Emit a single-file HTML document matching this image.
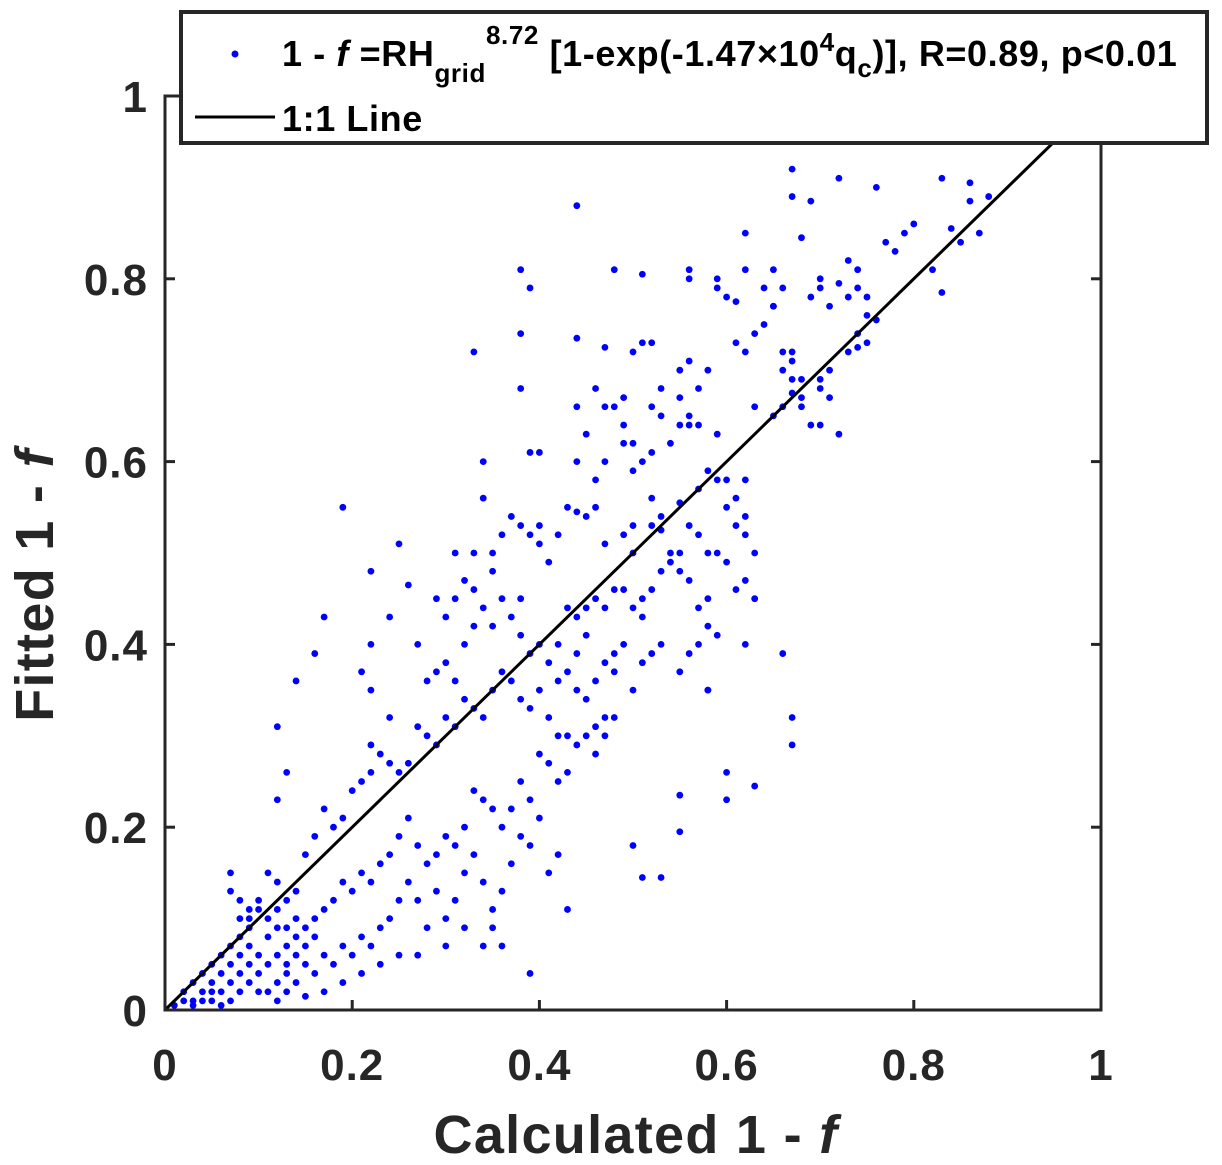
<!DOCTYPE html>
<html><head><meta charset="utf-8"><style>
html,body{margin:0;padding:0;background:#fff}
svg{display:block;font-family:"Liberation Sans",Arial,sans-serif;font-weight:bold}
</style></head><body>
<svg id="chart" width="1222" height="1165" viewBox="0 0 1222 1165">
<g id="marks"></g>
<line id="oneline" stroke="#000" stroke-width="3"/>
<rect x="165" y="96" width="936" height="914" fill="none" stroke="#262626" stroke-width="3"/>
<g id="ticks"></g>
<text x="636" y="1153" font-size="54" letter-spacing="1.3" text-anchor="middle" fill="#262626">Calculated 1 - <tspan font-style="italic">f</tspan></text>
<text transform="translate(53,585) rotate(-90)" font-size="54" letter-spacing="1.3" text-anchor="middle" fill="#262626">Fitted 1 - <tspan font-style="italic">f</tspan></text>
<g>
<rect x="181" y="12" width="1026" height="131" fill="#fff" stroke="#262626" stroke-width="4"/>
<circle cx="235" cy="54" r="3.5" fill="#0000ff"/>
<text x="282" y="66" font-size="36" letter-spacing="0.6" fill="#000">1 - <tspan font-style="italic">f</tspan> =RH<tspan font-size="26" dy="16">grid</tspan><tspan font-size="26" dy="-38">8.72</tspan><tspan dy="22"> [1-exp(-1.47×10</tspan><tspan font-size="26" dy="-15">4</tspan><tspan dy="15">q</tspan><tspan font-size="26" dy="11">c</tspan><tspan dy="-11">)], R=0.89, p&lt;0.01</tspan></text>
<line x1="195" y1="117" x2="275" y2="117" stroke="#000" stroke-width="3"/>
<text x="282" y="131" font-size="36" letter-spacing="0.6" fill="#000">1:1 Line</text>
</g>
</svg>
<script>
const xTicks=[0,0.2,0.4,0.6,0.8,1];
const yTicks=[0,0.2,0.4,0.6,0.8,1];
const xTickLabels=["0","0.2","0.4","0.6","0.8","1"];
const yTickLabels=["0","0.2","0.4","0.6","0.8","1"];
const calcVals=[0.67,0.72,0.76,0.83,0.86,0.88,0.67,0.69,0.86,0.87,0.85,0.84,0.80,0.79,0.77,0.78,0.73,0.74,0.82,0.83,0.62,0.68,0.44,0.38,0.39,0.48,0.51,0.56,0.56,0.59,0.62,0.65,0.70,0.70,0.72,0.74,0.75,0.76,0.69,0.66,0.64,0.60,0.59,0.61,0.65,0.71,0.73,0.75,0.74,0.74,0.75,0.73,0.71,0.70,0.70,0.71,0.72,0.70,0.69,0.66,0.67,0.67,0.66,0.67,0.68,0.68,0.67,0.68,0.66,0.65,0.63,0.63,0.62,0.61,0.64,0.65,0.33,0.38,0.38,0.44,0.47,0.51,0.52,0.50,0.55,0.55,0.56,0.58,0.57,0.56,0.57,0.59,0.56,0.55,0.53,0.54,0.52,0.49,0.50,0.47,0.44,0.46,0.47,0.45,0.44,0.46,0.40,0.39,0.34,0.34,0.53,0.52,0.49,0.48,0.49,0.50,0.51,0.52,0.53,0.53,0.52,0.55,0.57,0.58,0.59,0.60,0.60,0.61,0.62,0.62,0.61,0.62,0.63,0.62,0.63,0.61,0.60,0.59,0.58,0.57,0.56,0.55,0.54,0.55,0.56,0.57,0.58,0.58,0.57,0.55,0.58,0.54,0.53,0.52,0.51,0.50,0.49,0.48,0.50,0.49,0.50,0.47,0.46,0.45,0.44,0.43,0.42,0.41,0.40,0.40,0.39,0.37,0.38,0.36,0.35,0.33,0.32,0.33,0.35,0.31,0.31,0.29,0.30,0.24,0.26,0.25,0.22,0.19,0.16,0.17,0.14,0.12,0.13,0.12,0.22,0.22,0.21,0.24,0.27,0.28,0.30,0.29,0.31,0.32,0.33,0.34,0.35,0.36,0.37,0.38,0.38,0.39,0.40,0.41,0.42,0.43,0.44,0.45,0.46,0.47,0.45,0.44,0.43,0.42,0.44,0.45,0.46,0.47,0.48,0.49,0.51,0.52,0.50,0.48,0.46,0.45,0.44,0.43,0.42,0.41,0.40,0.39,0.38,0.37,0.36,0.35,0.34,0.33,0.32,0.31,0.30,0.29,0.28,0.27,0.26,0.25,0.24,0.22,0.23,0.22,0.21,0.20,0.19,0.18,0.17,0.16,0.15,0.14,0.13,0.12,0.11,0.07,0.07,0.08,0.09,0.10,0.66,0.67,0.67,0.60,0.60,0.63,0.55,0.55,0.50,0.51,0.53,0.58,0.56,0.59,0.62,0.51,0.53,0.48,0.47,0.47,0.46,0.43,0.42,0.41,0.40,0.40,0.39,0.39,0.38,0.37,0.36,0.35,0.34,0.33,0.32,0.31,0.30,0.29,0.28,0.27,0.26,0.25,0.24,0.23,0.22,0.21,0.20,0.19,0.18,0.17,0.16,0.15,0.14,0.43,0.42,0.41,0.39,0.37,0.38,0.36,0.35,0.34,0.33,0.32,0.31,0.30,0.29,0.28,0.27,0.26,0.25,0.24,0.23,0.22,0.21,0.20,0.19,0.18,0.17,0.16,0.15,0.14,0.13,0.12,0.11,0.36,0.35,0.34,0.32,0.30,0.27,0.25,0.23,0.21,0.19,0.17,0.15,0.01,0.02,0.02,0.03,0.03,0.04,0.04,0.05,0.05,0.06,0.06,0.07,0.07,0.08,0.08,0.09,0.09,0.10,0.10,0.11,0.11,0.12,0.12,0.13,0.13,0.14,0.14,0.15,0.16,0.09,0.08,0.07,0.06,0.05,0.04,0.03,0.06,0.08,0.10,0.12,0.13,0.09,0.07,0.05,0.11,0.10,0.09,0.08,0.13,0.12];
const fitVals=[0.92,0.91,0.90,0.91,0.905,0.89,0.89,0.885,0.885,0.85,0.84,0.855,0.86,0.85,0.84,0.83,0.82,0.81,0.81,0.785,0.85,0.845,0.88,0.81,0.79,0.81,0.805,0.81,0.80,0.80,0.81,0.81,0.80,0.79,0.795,0.79,0.76,0.755,0.78,0.79,0.79,0.78,0.79,0.775,0.77,0.77,0.78,0.78,0.74,0.725,0.73,0.72,0.70,0.69,0.68,0.67,0.63,0.64,0.64,0.72,0.72,0.71,0.70,0.69,0.69,0.67,0.675,0.66,0.66,0.65,0.66,0.74,0.72,0.73,0.75,0.77,0.72,0.74,0.68,0.735,0.725,0.73,0.73,0.72,0.70,0.67,0.71,0.70,0.68,0.65,0.64,0.63,0.64,0.64,0.65,0.62,0.61,0.62,0.62,0.60,0.66,0.68,0.66,0.63,0.60,0.58,0.61,0.61,0.60,0.56,0.68,0.66,0.67,0.66,0.64,0.59,0.60,0.56,0.54,0.525,0.53,0.555,0.57,0.59,0.58,0.55,0.58,0.56,0.58,0.54,0.53,0.52,0.50,0.47,0.45,0.46,0.49,0.50,0.50,0.52,0.53,0.50,0.50,0.48,0.47,0.44,0.45,0.42,0.40,0.37,0.35,0.49,0.48,0.46,0.45,0.44,0.46,0.46,0.50,0.52,0.53,0.51,0.55,0.54,0.545,0.55,0.52,0.49,0.51,0.53,0.52,0.54,0.53,0.52,0.50,0.50,0.47,0.46,0.48,0.50,0.45,0.45,0.43,0.43,0.465,0.51,0.48,0.55,0.39,0.43,0.36,0.31,0.26,0.23,0.40,0.35,0.37,0.32,0.40,0.36,0.38,0.37,0.36,0.40,0.42,0.44,0.42,0.45,0.43,0.45,0.41,0.39,0.40,0.38,0.40,0.44,0.43,0.44,0.45,0.44,0.41,0.39,0.37,0.36,0.35,0.34,0.36,0.38,0.39,0.40,0.38,0.39,0.35,0.32,0.31,0.30,0.29,0.30,0.30,0.32,0.35,0.33,0.34,0.36,0.37,0.35,0.32,0.33,0.34,0.31,0.32,0.29,0.30,0.31,0.27,0.26,0.27,0.29,0.28,0.26,0.25,0.24,0.21,0.20,0.22,0.19,0.17,0.13,0.12,0.14,0.15,0.15,0.13,0.12,0.11,0.12,0.39,0.32,0.29,0.26,0.23,0.245,0.235,0.195,0.18,0.145,0.145,0.35,0.39,0.41,0.40,0.43,0.40,0.37,0.32,0.30,0.28,0.26,0.25,0.27,0.28,0.21,0.18,0.23,0.25,0.22,0.20,0.22,0.23,0.24,0.20,0.18,0.19,0.17,0.16,0.18,0.21,0.19,0.17,0.16,0.14,0.15,0.13,0.14,0.12,0.11,0.10,0.09,0.08,0.11,0.17,0.15,0.04,0.16,0.19,0.13,0.11,0.14,0.17,0.15,0.12,0.10,0.13,0.09,0.12,0.14,0.12,0.10,0.09,0.07,0.08,0.06,0.07,0.05,0.06,0.04,0.05,0.03,0.02,0.03,0.02,0.07,0.09,0.07,0.09,0.07,0.06,0.06,0.05,0.04,0.03,0.02,0.015,0.005,0.01,0.02,0.01,0.03,0.02,0.04,0.03,0.05,0.02,0.04,0.05,0.03,0.06,0.04,0.05,0.07,0.06,0.04,0.05,0.08,0.06,0.09,0.07,0.05,0.06,0.10,0.07,0.08,0.09,0.08,0.07,0.06,0.01,0.01,0.005,0.005,0.02,0.02,0.01,0.04,0.03,0.01,0.02,0.10,0.11,0.10,0.10,0.09,0.11];
const X0=165,X1=1101,Y0=1010,Y1=96;
function xs(v){return X0+v*(X1-X0);}
function ys(v){return Y0-v*(Y0-Y1);}
const NS="http://www.w3.org/2000/svg";
const marks=document.getElementById('marks');
for(let i=0;i<calcVals.length;i++){
  const c=document.createElementNS(NS,'circle');
  c.setAttribute('cx',xs(calcVals[i]));c.setAttribute('cy',ys(fitVals[i]));
  c.setAttribute('r',3.4);c.setAttribute('fill','#0000ff');
  
  
  marks.appendChild(c);
}
const ln=document.getElementById('oneline');
ln.setAttribute('x1',xs(0));ln.setAttribute('y1',ys(0));ln.setAttribute('x2',xs(1));ln.setAttribute('y2',ys(1));
const tg=document.getElementById('ticks');
function add(tag,attrs,txt,name){const e=document.createElementNS(NS,tag);for(const k in attrs)e.setAttribute(k,attrs[k]);if(txt!==undefined)e.textContent=txt;
  
  
  tg.appendChild(e);}
xTicks.forEach((t,i)=>{const x=xs(t);
  add('line',{x1:x,y1:Y0,x2:x,y2:Y0-10,stroke:'#262626','stroke-width':3},undefined,'x-tick');
  add('line',{x1:x,y1:Y1,x2:x,y2:Y1+10,stroke:'#262626','stroke-width':3},undefined,'x-tick-top');
  add('text',{x:x,y:1080,'font-size':44,'letter-spacing':1,'text-anchor':'middle',fill:'#262626'},xTickLabels[i],'x-tick-label');});
yTicks.forEach((t,i)=>{const y=ys(t);
  add('line',{x1:X0,y1:y,x2:X0+10,y2:y,stroke:'#262626','stroke-width':3},undefined,'y-tick');
  add('line',{x1:X1,y1:y,x2:X1-10,y2:y,stroke:'#262626','stroke-width':3},undefined,'y-tick-right');
  add('text',{x:148,y:y+16,'font-size':44,'letter-spacing':1,'text-anchor':'end',fill:'#262626'},yTickLabels[i],'y-tick-label');});
</script>
</body></html>
